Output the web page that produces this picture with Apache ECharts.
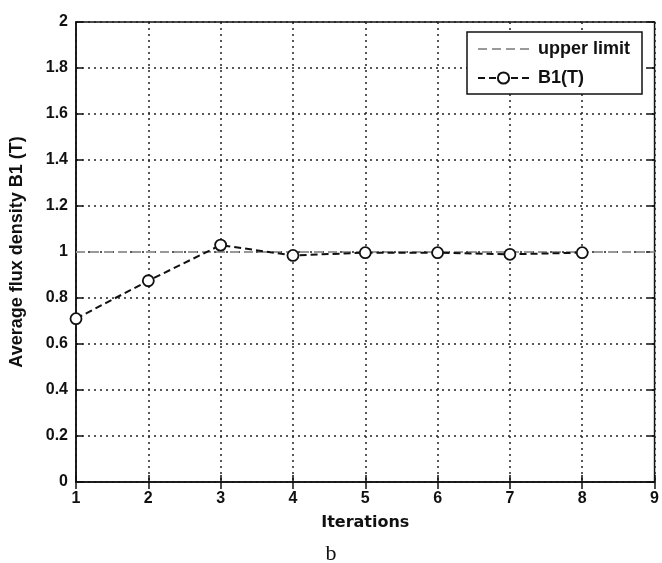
<!DOCTYPE html>
<html>
<head>
<meta charset="utf-8">
<script src="https://cdn.jsdelivr.net/npm/echarts@6/dist/echarts.min.js"></script>
<style>html,body{margin:0;padding:0;background:#fff;}#c{width:662px;height:563px;}</style>
</head>
<body>
<div id="c"></div>
<script>
var iterations = [1, 2, 3, 4, 5, 6, 7, 8];
var b1Values = [0.71, 0.875, 1.03, 0.985, 0.997, 0.997, 0.99, 0.997];
var upperLimitX = [1, 9];
var upperLimitY = [1, 1];
var xTicks = [1, 2, 3, 4, 5, 6, 7, 8, 9];
var yTicks = [0, 0.2, 0.4, 0.6, 0.8, 1, 1.2, 1.4, 1.6, 1.8, 2];

var chart = echarts.init(document.getElementById('c'));
var tickFont = {color: '#111', fontWeight: 'bold', fontSize: 16, fontFamily: 'Liberation Sans, Arial, sans-serif'};
var gridLine = {show: true, lineStyle: {color: '#222', width: 1.5, type: [2, 4]}};
function yfmt(v){ return String(Math.round(v*10)/10); }
chart.setOption({
  animation: false,
  grid: {left: 75, right: 5, top: 22, bottom: 81, show: true, borderColor: '#111', borderWidth: 1.5, backgroundColor: 'transparent'},
  xAxis: [{
    type: 'value', min: 1, max: 9, interval: 1,
    name: 'Iterations', nameLocation: 'middle', nameGap: 33,
    nameTextStyle: {fontWeight: 'bold', fontSize: 16, color: '#111', fontFamily: 'DejaVu Sans, sans-serif'},
    axisLine: {show: true, lineStyle: {color: '#111', width: 1.5}},
    axisTick: {inside: true, length: 7, lineStyle: {color: '#111', width: 1.5}},
    axisLabel: Object.assign({margin: 9, formatter: function(v){return String(v);}}, tickFont),
    splitLine: gridLine
  }, {
    type: 'value', min: 1, max: 9, interval: 1, position: 'top',
    axisLine: {show: false}, axisLabel: {show: false}, splitLine: {show: false},
    axisTick: {inside: true, length: 7, lineStyle: {color: '#111', width: 1.5}}
  }],
  yAxis: [{
    type: 'value', min: 0, max: 2, interval: 0.2,
    name: 'Average flux density B1 (T)', nameLocation: 'middle', nameGap: 50,
    nameTextStyle: {fontWeight: 'bold', fontSize: 18, color: '#111', fontFamily: 'Liberation Sans, Arial, sans-serif'},
    axisLine: {show: true, lineStyle: {color: '#111', width: 1.5}},
    axisTick: {inside: true, length: 7, lineStyle: {color: '#111', width: 1.5}},
    axisLabel: Object.assign({margin: 8, formatter: yfmt}, tickFont),
    splitLine: gridLine
  }, {
    type: 'value', min: 0, max: 2, interval: 0.2, position: 'right',
    axisLine: {show: false}, axisLabel: {show: false}, splitLine: {show: false},
    axisTick: {inside: true, length: 7, lineStyle: {color: '#111', width: 1.5}}
  }],
  legend: {
    show: true, orient: 'vertical', left: 467, top: 32,
    backgroundColor: '#fff', borderColor: '#111', borderWidth: 1.5, borderRadius: 0,
    padding: [8, 12, 7, 10], itemGap: 11, itemWidth: 51, itemHeight: 14,
    textStyle: {fontWeight: 'bold', fontSize: 18, color: '#111', fontFamily: 'Liberation Sans, Arial, sans-serif', padding: [0, 0, 0, 4]},
    data: [{name: 'upper limit', itemStyle: {opacity: 0}}, {name: 'B1(T)'}]
  },
  series: [{
    name: 'upper limit', type: 'line',
    data: upperLimitX.map(function(x, i){ return [x, upperLimitY[i]]; }),
    showSymbol: false, symbol: 'none',
    lineStyle: {color: '#999', width: 2, type: [9, 5]},
    itemStyle: {color: '#999'}, z: 3
  }, {
    name: 'B1(T)', type: 'line',
    data: iterations.map(function(x, i){ return [x, b1Values[i]]; }),
    symbol: 'circle', symbolSize: 11,
    lineStyle: {color: '#111', width: 2, type: [7, 4]},
    itemStyle: {color: '#fff', borderColor: '#111', borderWidth: 1.8},
    z: 4
  }],
  graphic: [{
    type: 'text', left: 'center', top: 543,
    style: {text: 'b', x: 0, fontSize: 22, fontFamily: 'Liberation Serif, serif', fill: '#111'}
  }]
});
</script>
</body>
</html>
